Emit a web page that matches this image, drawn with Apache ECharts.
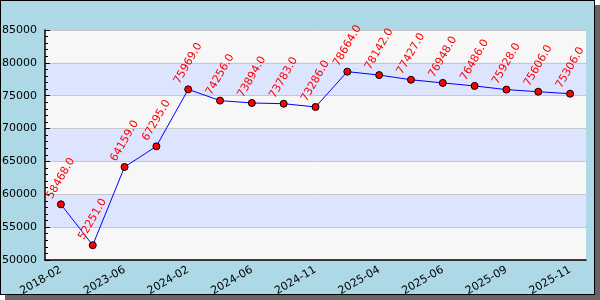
<!DOCTYPE html>
<html><head><meta charset="utf-8">
<script src="https://cdn.jsdelivr.net/npm/echarts@6/dist/echarts.min.js"></script>
<style>
html,body{margin:0;padding:0;background:#fff;}
#chart{position:absolute;left:0;top:0;width:593px;height:293px;border:1px solid #000;background:#add8e6;box-shadow:5px 5px 0 #666;}
</style></head>
<body><div id="chart"></div>
<script>
const categories = ['2018-02','2020-10','2023-06','2023-10','2024-02','2024-04','2024-06','2024-09','2024-11','2025-02','2025-04','2025-05','2025-06','2025-08','2025-09','2025-10','2025-11'];
const values = [58468, 52251, 64159, 67295, 75969, 74256, 73894, 73783, 73286, 78664, 78142, 77427, 76948, 76486, 75928, 75606, 75306];
const yMin = 50000, yMax = 85000, yStep = 5000;

const chart = echarts.init(document.getElementById('chart'), null, {renderer:'canvas'});
const font = 'DejaVu Sans';
chart.setOption({
  animation:false,
  backgroundColor:'transparent',
  grid:{left:44, right:8, top:29, bottom:34, containLabel:false, outerBoundsMode:'none'},
  xAxis:{
    type:'category', data:categories, boundaryGap:true,
    axisLine:{lineStyle:{color:'#000', width:1.5}},
    axisTick:{inside:true, alignWithLabel:true, interval:0, length:5, lineStyle:{color:'#000'}},
    axisLabel:{interval:1, rotate:30, color:'#000', fontFamily:font, fontSize:11, margin:9},
    splitLine:{show:false}
  },
  yAxis:{
    type:'value', min:yMin, max:yMax, interval:yStep,
    axisLine:{show:true, lineStyle:{color:'#000', width:1.5}},
    axisTick:{show:true, inside:true, length:5, lineStyle:{color:'#000'}},
    minorTick:{show:true, splitNumber:5, length:3, lineStyle:{color:'#000'}},
    axisLabel:{color:'#000', fontFamily:font, fontSize:11, margin:8, formatter:v=>String(v)},
    splitLine:{show:true, lineStyle:{color:'#c8c8c8', width:1}},
    splitArea:{show:true, areaStyle:{color:['#f7f7f7','#dde4fe']}}
  },
  series:[{
    type:'line', data:values,
    lineStyle:{color:'#0000ff', width:1},
    symbol:'circle', symbolSize:7,
    itemStyle:{color:'#ff0000', borderColor:'#000', borderWidth:1},
    label:{show:true, position:'top', distance:22, rotate:60, align:'center', verticalAlign:'middle',
      color:'#ff0000', fontFamily:font, fontSize:11,
      formatter:p=>p.value.toFixed(1)}
  }]
});
</script></body></html>
